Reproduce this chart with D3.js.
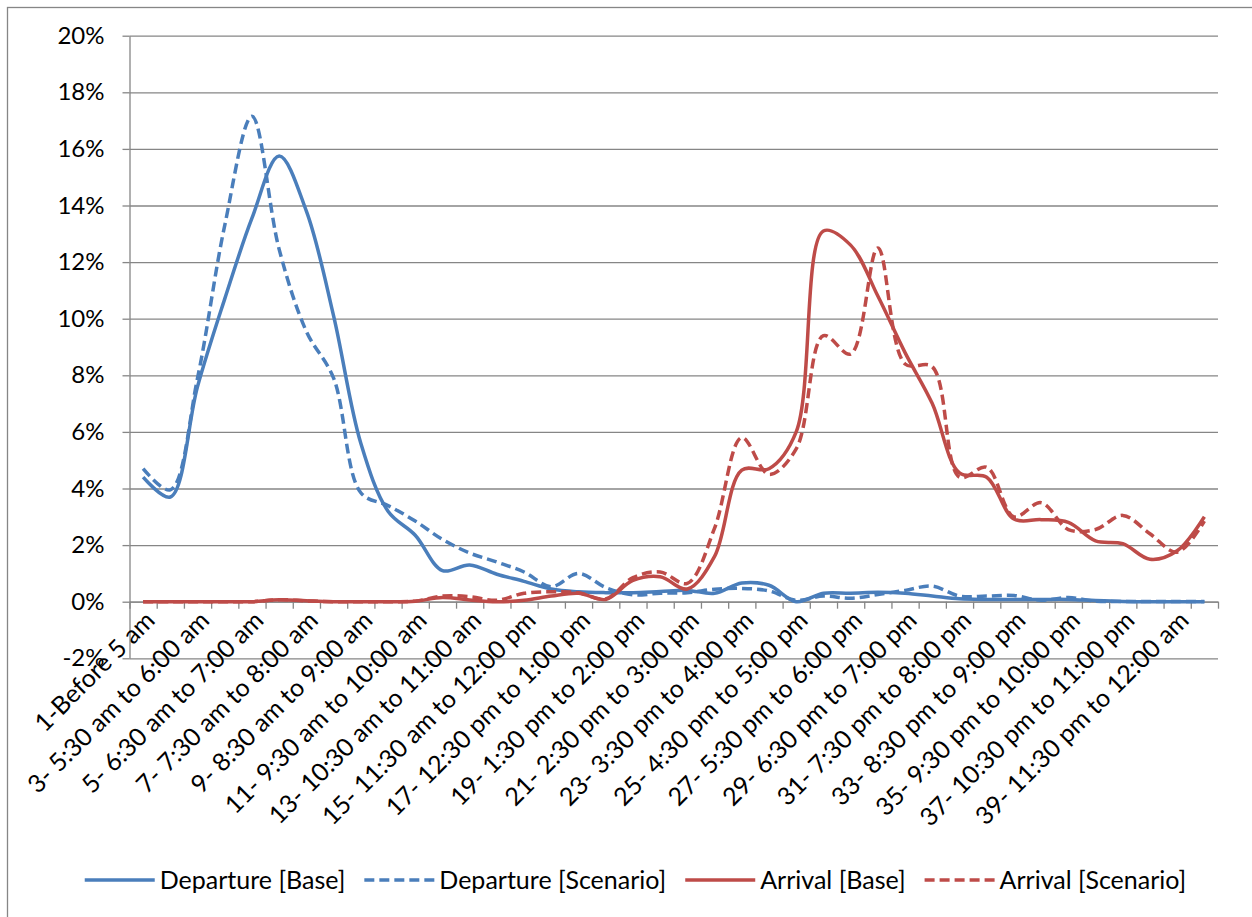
<!DOCTYPE html>
<html>
<head>
<meta charset="utf-8">
<script src="https://cdn.jsdelivr.net/npm/d3@7"></script>
<style>
  html, body { margin: 0; padding: 0; background: #fff; }
  svg { display: block; }
  text { font-family: Lato, "Noto Sans", sans-serif; fill: #000; }
</style>
</head>
<body>
<svg id="chart" width="1252" height="917"></svg>
<script>
// Half-hour time slots of the day
const categories = [
  "1-Before 5 am", "2- 5:00 am to 5:30 am", "3- 5:30 am to 6:00 am", "4- 6:00 am to 6:30 am",
  "5- 6:30 am to 7:00 am", "6- 7:00 am to 7:30 am", "7- 7:30 am to 8:00 am", "8- 8:00 am to 8:30 am",
  "9- 8:30 am to 9:00 am", "10- 9:00 am to 9:30 am", "11- 9:30 am to 10:00 am", "12- 10:00 am to 10:30 am",
  "13- 10:30 am to 11:00 am", "14- 11:00 am to 11:30 am", "15- 11:30 am to 12:00 pm", "16- 12:00 pm to 12:30 pm",
  "17- 12:30 pm to 1:00 pm", "18- 1:00 pm to 1:30 pm", "19- 1:30 pm to 2:00 pm", "20- 2:00 pm to 2:30 pm",
  "21- 2:30 pm to 3:00 pm", "22- 3:00 pm to 3:30 pm", "23- 3:30 pm to 4:00 pm", "24- 4:00 pm to 4:30 pm",
  "25- 4:30 pm to 5:00 pm", "26- 5:00 pm to 5:30 pm", "27- 5:30 pm to 6:00 pm", "28- 6:00 pm to 6:30 pm",
  "29- 6:30 pm to 7:00 pm", "30- 7:00 pm to 7:30 pm", "31- 7:30 pm to 8:00 pm", "32- 8:00 pm to 8:30 pm",
  "33- 8:30 pm to 9:00 pm", "34- 9:00 pm to 9:30 pm", "35- 9:30 pm to 10:00 pm", "36- 10:00 pm to 10:30 pm",
  "37- 10:30 pm to 11:00 pm", "38- 11:00 pm to 11:30 pm", "39- 11:30 pm to 12:00 am", "40- After 12:00 am"
];

// Share of trips in each slot (%)
const departureBase = [4.4, 3.7, 7.6, 10.7, 13.55, 15.75, 13.8, 10.1, 5.6, 3.2, 2.35, 1.1, 1.3, 0.97, 0.72, 0.45, 0.35, 0.32, 0.32, 0.36, 0.4, 0.3, 0.66, 0.58, 0.0, 0.3, 0.3, 0.33, 0.3, 0.2, 0.1, 0.08, 0.08, 0.08, 0.08, 0.04, 0.01, 0, 0, 0];
const departureScenario = [4.7, 3.95, 7.9, 13.3, 17.15, 12.45, 9.55, 7.9, 3.85, 3.4, 2.85, 2.2, 1.72, 1.4, 1.05, 0.53, 1.0, 0.5, 0.24, 0.3, 0.32, 0.44, 0.47, 0.38, 0.05, 0.2, 0.12, 0.25, 0.4, 0.55, 0.2, 0.2, 0.22, 0.05, 0.15, 0.02, 0.01, 0.01, 0.01, 0.01];
const arrivalBase = [0, 0, 0, 0, 0, 0.07, 0.03, 0, 0, 0, 0.02, 0.15, 0.06, 0, 0.05, 0.2, 0.3, 0.08, 0.75, 0.88, 0.45, 1.6, 4.65, 4.7, 6.0, 13.1, 12.6, 10.8, 8.8, 7.0, 4.55, 4.4, 2.92, 2.9, 2.8, 2.15, 2.05, 1.5, 1.8, 3.0];
const arrivalScenario = [0, 0, 0, 0, 0, 0.07, 0.03, 0, 0, 0, 0.02, 0.2, 0.18, 0.05, 0.3, 0.35, 0.32, 0.1, 0.85, 1.05, 0.65, 2.6, 5.8, 4.5, 5.4, 9.4, 8.75, 12.5, 8.4, 8.3, 4.4, 4.75, 3.0, 3.5, 2.55, 2.55, 3.05, 2.4, 1.75, 2.85];

const yTicks = [-2, 0, 2, 4, 6, 8, 10, 12, 14, 16, 18, 20];

const seriesNames = ["Departure [Base]", "Departure [Scenario]", "Arrival [Base]", "Arrival [Scenario]"];
const seriesColors = ["#4A7EBB", "#4A7EBB", "#BE4B48", "#BE4B48"];
const seriesDashed = [false, true, false, true];
const seriesValues = [departureBase, departureScenario, arrivalBase, arrivalScenario];

const svg = d3.select("#chart");
const plot = { left: 129.5, right: 1218, top: 35.7, bottom: 658.3 };
const gridColor = "#868686";
const fontSize = 25;
const lineWidth = 3.5;

// Outer chart frame
svg.append("rect")
  .attr("x", 7.5).attr("y", 7.5).attr("width", 1270).attr("height", 930)
  .attr("fill", "#fff").attr("stroke", gridColor).attr("stroke-width", 1.3);

const x = d3.scaleBand().domain(categories).range([plot.left, plot.right]).padding(0);
const xEdges = d3.scaleLinear().domain([0, categories.length]).range([plot.left, plot.right]);
const y = d3.scaleLinear().domain([-2, 20]).range([plot.bottom, plot.top]);

// Horizontal gridlines
const grid = svg.append("g")
  .attr("transform", `translate(${plot.left},0)`)
  .call(d3.axisLeft(y).tickValues(yTicks).tickSize(-(plot.right - plot.left)).tickFormat(""));
grid.select(".domain").remove();
grid.selectAll(".tick line").attr("stroke", gridColor).attr("stroke-width", 1.3);

// Value axis with percent labels
const yAxis = svg.append("g")
  .attr("transform", `translate(${plot.left},0)`)
  .call(d3.axisLeft(y).tickValues(yTicks).tickSize(7).tickSizeOuter(0).tickPadding(18)
    .tickFormat(d => d + "%"));
yAxis.select(".domain").attr("stroke", gridColor).attr("stroke-width", 1.3);
yAxis.selectAll(".tick line").attr("stroke", gridColor).attr("stroke-width", 1.3);
yAxis.selectAll(".tick text")
  .style("font-family", "Lato, 'Noto Sans', sans-serif")
  .style("font-size", "24px").attr("fill", "#000");

// Category axis crossing at 0%, ticks between categories
const xAxis = svg.append("g")
  .attr("transform", `translate(0,${y(0)})`)
  .call(d3.axisBottom(xEdges).tickValues(d3.range(categories.length + 1)).tickSize(7).tickSizeOuter(0).tickFormat(""));
xAxis.select(".domain").attr("stroke", gridColor).attr("stroke-width", 1.3);
xAxis.selectAll(".tick line").attr("stroke", gridColor).attr("stroke-width", 1.3);

// Rotated category labels on every second slot
const bw = x.bandwidth();
svg.append("g").selectAll("text")
  .data(categories.filter((c, i) => i % 2 === 0))
  .join("text")
  .attr("transform", d => `translate(${x(d) + bw / 2 + 7},${y(0) + 14}) rotate(-45)`)
  .attr("text-anchor", "end")
  .attr("dy", "0.35em")
  .style("font-size", fontSize + "px")
  .text(d => d);

// Smoothed series lines
const line = d3.line()
  .x((d, i) => x(categories[i]) + bw / 2)
  .y(d => y(d))
  .curve(d3.curveCatmullRom);

const order = [0, 1, 2, 3];
svg.append("g").selectAll("path")
  .data(order)
  .join("path")
  .attr("d", k => line(seriesValues[k]))
  .attr("fill", "none")
  .attr("stroke", k => seriesColors[k])
  .attr("stroke-width", lineWidth)
  .attr("stroke-linejoin", "round")
  .attr("stroke-dasharray", k => seriesDashed[k] ? "10,5" : null);

// Legend, centred under the plot
const legend = svg.append("g").attr("transform", "translate(0,880)");
const sample = 70, gapText = 5, gapItem = 19;
const items = legend.selectAll("g").data(order).join("g");
items.append("line")
  .attr("x1", 0).attr("x2", sample).attr("y1", 0).attr("y2", 0)
  .attr("stroke", k => seriesColors[k]).attr("stroke-width", lineWidth)
  .attr("stroke-dasharray", k => seriesDashed[k] ? "10,5" : null);
items.append("text")
  .attr("x", sample + gapText).attr("dy", "0.35em")
  .style("font-size", fontSize + "px")
  .text(k => seriesNames[k]);
let offsets = [], cursor = 0;
items.each(function () {
  const w = d3.select(this).select("text").node().getComputedTextLength();
  offsets.push(cursor);
  cursor += sample + gapText + w + gapItem;
});
const total = cursor - gapItem;
const startX = 635.5 - total / 2;
items.attr("transform", (k, i) => `translate(${startX + offsets[i]},0)`);
</script>
</body>
</html>
